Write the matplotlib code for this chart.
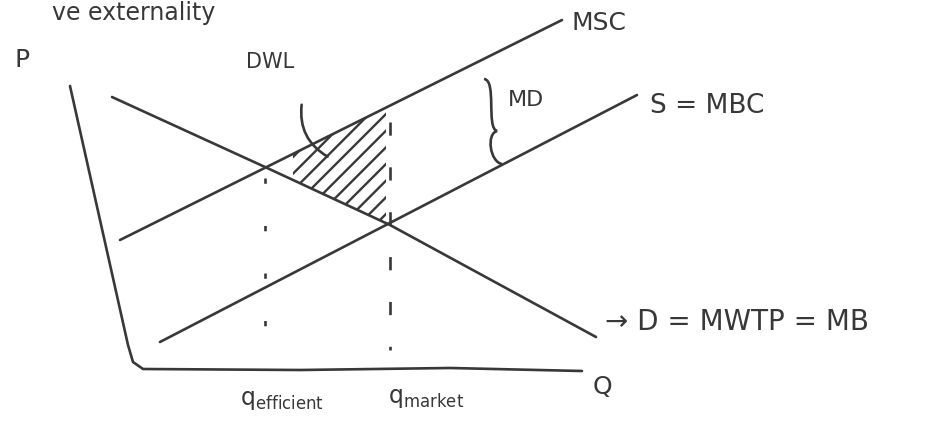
import numpy as np
import matplotlib.pyplot as plt
from matplotlib.path import Path
from matplotlib.patches import PathPatch

# curves in canvas units (y grows downward)
demand_x = [112, 265, 390, 596]
demand_y = [97, 167, 225, 337]
msc_x = [120, 562]
msc_y = [240, 20]
mbc_x = [160, 637]
mbc_y = [342, 95]

# quantity marks
q_eff = 265
q_mkt = 390

ink = '#383838'
lw = 1.9

fig = plt.figure(figsize=(9.27, 4.25), dpi=100)
ax = fig.add_axes([0, 0, 1, 1])
ax.set_xlim(0, 927)
ax.set_ylim(425, 0)
ax.axis('off')

# hand drawn axes
ax.plot([70, 128, 133, 143, 300, 450, 582], [86, 345, 362, 369, 370, 368, 371],
        color=ink, lw=lw, solid_capstyle='round')

ax.plot(demand_x, demand_y, color=ink, lw=lw, solid_capstyle='round')
ax.plot(msc_x, msc_y, color=ink, lw=lw, solid_capstyle='round')
ax.plot(mbc_x, mbc_y, color=ink, lw=lw, solid_capstyle='round')

# deadweight loss between MSC and demand
plt.rcParams['hatch.linewidth'] = 1.7
xs = np.linspace(293, 386, 50)
top = np.interp(xs, msc_x, msc_y)
bot = np.interp(xs, demand_x, demand_y)
ax.fill_between(xs, top, bot, facecolor='none', edgecolor=ink, hatch='//', lw=0)

# dropped lines to the quantity axis
ax.plot([q_eff, q_eff], [178, 345], color=ink, lw=lw, ls=(0, (2, 16)))
ax.plot([q_mkt, q_mkt], [122, 350], color=ink, lw=lw, ls=(0, (5, 12)))

# DWL pointer
ax.annotate('', xy=(330, 158), xytext=(302, 102),
            arrowprops=dict(arrowstyle='-', color=ink, lw=lw,
                            connectionstyle='arc3,rad=0.35'))

# MD brace
brace = Path([(484, 79), (497, 80), (486, 128), (497, 131),
              (486, 134), (490, 162), (502, 164)],
             [Path.MOVETO, Path.CURVE4, Path.CURVE4, Path.CURVE4,
              Path.CURVE4, Path.CURVE4, Path.CURVE4])
ax.add_patch(PathPatch(brace, facecolor='none', edgecolor=ink, lw=lw))

txt = dict(color=ink, family='DejaVu Sans')
ax.text(215, 1, 've externality', fontsize=17, ha='right', va='top', **txt)
ax.text(22, 60, 'P', fontsize=18, ha='center', va='center', **txt)
ax.text(270, 62, 'DWL', fontsize=15, ha='center', va='center', **txt)
ax.text(508, 100, 'MD', fontsize=16, ha='left', va='center', **txt)
ax.text(572, 23, 'MSC', fontsize=18, ha='left', va='center', **txt)
ax.text(650, 106, 'S = MBC', fontsize=19, ha='left', va='center', **txt)
ax.text(605, 322, '→ D = MWTP = MB', fontsize=20, ha='left', va='center', **txt)
ax.text(602, 387, 'Q', fontsize=18, ha='center', va='center', **txt)
ax.text(282, 400, 'q$_{\\mathrm{efficient}}$', fontsize=17, ha='center', va='center', **txt)
ax.text(426, 398, 'q$_{\\mathrm{market}}$', fontsize=17, ha='center', va='center', **txt)

fig.savefig('out.png', dpi=100, facecolor='white')
